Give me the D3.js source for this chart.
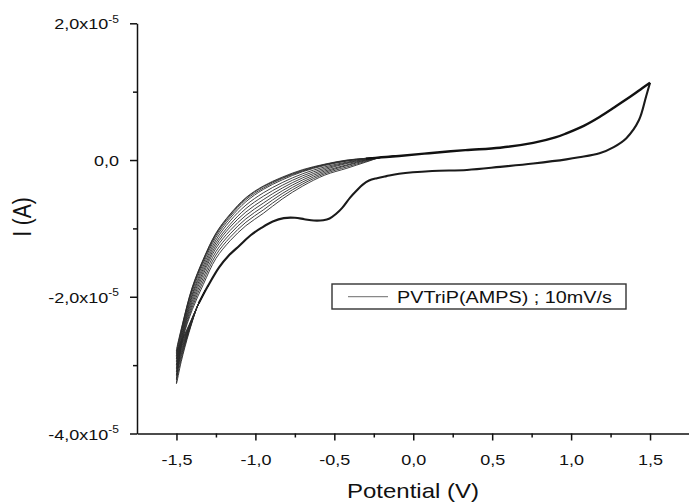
<!DOCTYPE html>
<html>
<head>
<meta charset="utf-8">
<script src="https://cdnjs.cloudflare.com/ajax/libs/d3/7.8.5/d3.min.js"></script>
<style>
    body { margin: 0; background: #fff; }
    svg { display: block; font-family: "Liberation Sans", Arial, sans-serif; }
</style>
</head>
<body>
<div id="pageContent"></div>
<script>
// Cyclic voltammogram, PVTriP(AMPS) at 10 mV/s
// potentials in V, currents in units of 1e-5 A

// cathodic sweep from the +1.5 V vertex down to -1.36 V, same for every cycle
var cathV = [1.50, 1.475, 1.43, 1.35, 1.27, 1.18, 1.05, 0.97, 0.76, 0.55, 0.34, 0.12,
    -0.09, -0.17, -0.23, -0.28, -0.32, -0.36, -0.40, -0.45, -0.49, -0.53, -0.57, -0.63,
    -0.69, -0.75, -0.82, -0.89, -0.96, -1.03, -1.10, -1.17, -1.23, -1.30, -1.36];
var cathI = [1.13, 0.93, 0.585, 0.32, 0.19, 0.10, 0.04, 0.01, -0.05, -0.10, -0.145, -0.16,
    -0.20, -0.235, -0.265, -0.30, -0.36, -0.45, -0.55, -0.70, -0.79, -0.855, -0.88, -0.885,
    -0.865, -0.845, -0.85, -0.90, -0.99, -1.10, -1.25, -1.40, -1.57, -1.84, -2.10];

// anodic sweep from -0.30 V up to the +1.5 V vertex, same for every cycle
var anodV = [-0.30, -0.20, -0.09, 0.10, 0.33, 0.55, 0.76, 0.90, 0.97, 1.08, 1.18, 1.28, 1.39, 1.45, 1.50];
var anodI = [0.02, 0.04, 0.06, 0.10, 0.145, 0.18, 0.25, 0.33, 0.39, 0.50, 0.63, 0.78, 0.95, 1.05, 1.13];

// part that changes from cycle to cycle: tail to the -1.5 V vertex and the way back to -0.30 V
var loopV = [-1.42, -1.47, -1.50, -1.46, -1.40, -1.33, -1.25, -1.16, -1.06, -0.95, -0.83, -0.70, -0.56, -0.42, -0.30];
var loopI = [
    [-2.52, -2.95, -3.27, -2.62, -2.19, -1.82, -1.44, -1.18, -0.96, -0.78, -0.57, -0.38, -0.22, -0.12, -0.03],
    [-2.50, -2.91, -3.21, -2.60, -2.15, -1.77, -1.39, -1.13, -0.91, -0.73, -0.53, -0.35, -0.20, -0.10, -0.02],
    [-2.49, -2.87, -3.15, -2.57, -2.11, -1.72, -1.34, -1.08, -0.86, -0.68, -0.49, -0.32, -0.18, -0.08, -0.01],
    [-2.48, -2.84, -3.10, -2.54, -2.07, -1.67, -1.29, -1.03, -0.81, -0.63, -0.45, -0.29, -0.16, -0.07, 0.00],
    [-2.47, -2.81, -3.05, -2.52, -2.03, -1.63, -1.25, -0.98, -0.76, -0.58, -0.41, -0.26, -0.14, -0.05, 0.00],
    [-2.46, -2.78, -3.00, -2.49, -1.99, -1.59, -1.21, -0.94, -0.71, -0.53, -0.37, -0.23, -0.12, -0.04, 0.01],
    [-2.45, -2.75, -2.95, -2.46, -1.96, -1.55, -1.17, -0.89, -0.66, -0.48, -0.33, -0.20, -0.10, -0.03, 0.015],
    [-2.44, -2.72, -2.91, -2.43, -1.92, -1.51, -1.13, -0.85, -0.61, -0.43, -0.29, -0.17, -0.08, -0.015, 0.02],
    [-2.43, -2.70, -2.87, -2.41, -1.89, -1.48, -1.10, -0.82, -0.58, -0.41, -0.27, -0.16, -0.07, -0.01, 0.02],
    [-2.42, -2.67, -2.83, -2.39, -1.87, -1.46, -1.08, -0.80, -0.56, -0.39, -0.26, -0.15, -0.065, -0.005, 0.025],
    [-2.41, -2.65, -2.80, -2.38, -1.86, -1.45, -1.07, -0.79, -0.55, -0.38, -0.25, -0.14, -0.06, 0.00, 0.025]
];

var xTicks = [-1.5, -1.0, -0.5, 0.0, 0.5, 1.0, 1.5];
var xTickLabels = ["-1,5", "-1,0", "-0,5", "0,0", "0,5", "1,0", "1,5"];
var xMinor = [-1.25, -0.75, -0.25, 0.25, 0.75, 1.25];
var yTicks = [-4, -2, 0, 2];
var yTickLabels = ["-4,0x10", "-2,0x10", "0,0", "2,0x10"];
var yTickExp = ["-5", "-5", "", "-5"];
var yMinor = [-3, -1, 1];
var legendLabel = "PVTriP(AMPS) ; 10mV/s";

var width = 689, height = 504;
var sx = 1.2; // the original figure is stretched sideways, text too

var x = d3.scaleLinear().domain([-1.75, 1.75]).range([137, 689.5]);
var y = d3.scaleLinear().domain([-4, 2]).range([433.5, 23.3]);

var svg = d3.select("#pageContent").append("svg")
    .attr("width", width)
    .attr("height", height);

var line = d3.line()
    .x(function(d) { return x(d[0]); })
    .y(function(d) { return y(d[1]); })
    .curve(d3.curveCatmullRom.alpha(0.5));

function pairs(vs, is) {
    return vs.map(function(v, i) { return [v, is[i]]; });
}

var cathPts = pairs(cathV, cathI);
var anodPts = pairs(anodV, anodI);

// one path per cycle for the varying part
var cycles = loopI.map(function(ci) {
    var pts = [cathPts[cathPts.length - 2], cathPts[cathPts.length - 1]];
    pts = pts.concat(pairs(loopV, ci));
    return pts.concat(anodPts.slice(1, 3));
});

var plot = svg.append("g").attr("class", "curves");

plot.selectAll("path.cycle")
    .data(cycles)
    .enter().append("path")
    .attr("class", "cycle")
    .attr("d", line)
    .attr("fill", "none")
    .attr("stroke", "#2a2a2a")
    .attr("stroke-width", 0.9);

// shared branches, many cycles lying on top of each other -> thick
plot.append("path")
    .attr("d", line(cathPts))
    .attr("fill", "none")
    .attr("stroke", "#1a1a1a")
    .attr("stroke-width", 2.1);

plot.append("path")
    .attr("d", line(anodPts))
    .attr("fill", "none")
    .attr("stroke", "#111")
    .attr("stroke-width", 2.4);

// axes
var xAxis = svg.append("g")
    .attr("transform", "translate(0," + y(-4) + ")")
    .call(d3.axisBottom(x).tickValues(xTicks).tickSize(7).tickSizeOuter(0)
        .tickFormat(function(d, i) { return xTickLabels[i]; }));

svg.append("g")
    .attr("transform", "translate(0," + y(-4) + ")")
    .call(d3.axisBottom(x).tickValues(xMinor).tickSize(4).tickFormat(""))
    .select(".domain").remove();

var yAxis = svg.append("g")
    .attr("transform", "translate(" + x(-1.75) + ",0)")
    .call(d3.axisLeft(y).tickValues(yTicks).tickSize(7).tickSizeOuter(0).tickFormat(""));

svg.append("g")
    .attr("transform", "translate(" + x(-1.75) + ",0)")
    .call(d3.axisLeft(y).tickValues(yMinor).tickSize(4).tickFormat(""))
    .select(".domain").remove();

svg.selectAll(".domain, .tick line")
    .attr("stroke", "#111")
    .attr("stroke-width", 1.5);

xAxis.selectAll(".tick text")
    .attr("y", 32)
    .attr("dy", 0)
    .attr("font-size", 15)
    .attr("font-family", "Liberation Sans, Arial, sans-serif")
    .attr("fill", "#111")
    .attr("transform", "scale(" + sx + ",1)");

yAxis.selectAll(".tick").each(function(d, i) {
    var t = d3.select(this).append("text")
        .attr("x", -18 / sx)
        .attr("y", 5.5)
        .attr("text-anchor", "end")
        .attr("font-size", 15)
        .attr("font-family", "Liberation Sans, Arial, sans-serif")
        .attr("fill", "#111")
        .attr("transform", "scale(" + sx + ",1)");
    t.append("tspan").text(yTickLabels[i]);
    if (yTickExp[i] != "") {
        t.append("tspan")
            .attr("dy", -6.5)
            .attr("font-size", 10)
            .text(yTickExp[i]);
    }
});

// axis titles
svg.append("text")
    .attr("transform", "translate(413,498) scale(" + sx + ",1)")
    .attr("text-anchor", "middle")
    .attr("font-size", 20)
    .attr("fill", "#111")
    .text("Potential (V)");

svg.append("text")
    .attr("transform", "translate(31,217) scale(" + sx + ",1) rotate(-90)")
    .attr("text-anchor", "middle")
    .attr("font-size", 21)
    .attr("fill", "#111")
    .text("I (A)");

// legend
var legend = svg.append("g").attr("class", "legend");

legend.append("rect")
    .attr("x", 332)
    .attr("y", 284)
    .attr("width", 294)
    .attr("height", 25)
    .attr("fill", "#fff")
    .attr("stroke", "#333")
    .attr("stroke-width", 1.4);

legend.append("line")
    .attr("x1", 348).attr("x2", 388)
    .attr("y1", 296.7).attr("y2", 296.7)
    .attr("stroke", "#888")
    .attr("stroke-width", 1.2);

legend.append("text")
    .attr("transform", "translate(397,303) scale(" + sx + ",1)")
    .attr("font-size", 16.5)
    .attr("fill", "#111")
    .text(legendLabel);
</script>
</body>
</html>
